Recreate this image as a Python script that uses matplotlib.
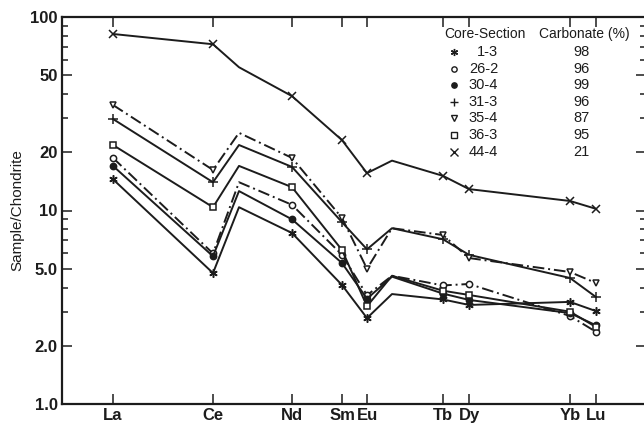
import numpy as np
import matplotlib
matplotlib.use("Agg")
import matplotlib.pyplot as plt
from matplotlib.ticker import FixedLocator, NullFormatter, FixedFormatter

plt.rcParams['font.family'] = ['Liberation Sans', 'DejaVu Sans']

# ----------------------
# DATA
# ----------------------
# x scale of the REE plot (labelled elements + unlabelled Pr / Gd bends)
ELEMENTS  = ["La", "Ce", "Pr", "Nd", "Sm", "Eu", "Gd", "Tb", "Dy", "Yb", "Lu"]
ELEMENT_X = [113, 213, 239, 292, 342, 367, 392, 443, 469, 570, 596]
LABELLED  = ["La", "Ce", "Nd", "Sm", "Eu", "Tb", "Dy", "Yb", "Lu"]

# sample / chondrite (Pr, Gd are line bends with no marker)
s_1_3  = [14.5, 4.75, 10.4, 7.65, 4.12, 2.78, 3.70, 3.47, 3.25, 3.37, 3.02]
s_26_2 = [18.7, 6.0, 14.0, 10.7, 5.9, 3.65, 4.6, 4.1, 4.17, 2.85, 2.36]
s_30_4 = [17.0, 5.8, 12.6, 9.0, 5.35, 3.5, 4.55, 3.72, 3.45, 2.95, 2.55]
s_31_3 = [29.7, 14.0, 21.8, 16.8, 8.7, 6.3, 8.1, 7.1, 5.9, 4.48, 3.57]
s_35_4 = [35.1, 16.2, 25.2, 18.7, 9.15, 5.0, 8.1, 7.47, 5.68, 4.81, 4.22]
s_36_3 = [21.8, 10.4, 17.0, 13.2, 6.25, 3.2, 4.6, 3.85, 3.66, 3.0, 2.5]
s_44_4 = [81.7, 72.3, 55.0, 39.0, 23.1, 15.6, 18.1, 15.1, 12.9, 11.2, 10.2]

CORE_SECTIONS = ["1-3", "26-2", "30-4", "31-3", "35-4", "36-3", "44-4"]
CARBONATE     = [98, 96, 99, 96, 87, 95, 21]
SERIES = [s_1_3, s_26_2, s_30_4, s_31_3, s_35_4, s_36_3, s_44_4]

# ----------------------
# STYLES
# ----------------------
INK = "#1c1c1c"
ASTER = (6, 2, 0)
DASHDOT = (0, (6, 2, 1, 2))
styles = [
    dict(marker=ASTER, ls="-",     mfc=INK,     ms=6),
    dict(marker="o",   ls=DASHDOT, mfc="white", ms=4.5),
    dict(marker="o",   ls="-",     mfc=INK,     ms=4.5),
    dict(marker="+",   ls="-",     mfc=INK,     ms=7),
    dict(marker="v",   ls=DASHDOT, mfc="white", ms=5),
    dict(marker="s",   ls="-",     mfc="white", ms=4.5),
    dict(marker="x",   ls="-",     mfc=INK,     ms=6),
]

# ----------------------
# PLOT
# ----------------------
fig = plt.figure(figsize=(6.44, 4.24), dpi=100)
ax = fig.add_axes([62/644, 1 - 404/424, 584/644, 387/424])

marked = [i for i, e in enumerate(ELEMENTS) if e in LABELLED]
for vals, st in zip(SERIES, styles):
    ax.plot(ELEMENT_X, vals, color=INK, lw=1.4, ls=st["ls"])
    ax.plot([ELEMENT_X[i] for i in marked], [vals[i] for i in marked],
            ls="none", marker=st["marker"], ms=st["ms"], mfc=st["mfc"],
            mec=INK, mew=1.1, color=INK)

ax.set_yscale("log")
ax.set_ylim(1, 100)
ax.set_xlim(62, 646)

ax.yaxis.set_major_locator(FixedLocator([1, 2, 5, 10, 20, 50, 100]))
ax.yaxis.set_major_formatter(FixedFormatter(["1.0", "2.0", "5.0", "10", "20", "50", "100"]))
minors = [m * d for d in (1, 10) for m in (3, 4, 6, 7, 8, 9)]
ax.yaxis.set_minor_locator(FixedLocator(minors))
ax.yaxis.set_minor_formatter(NullFormatter())

ax.set_xticks([ELEMENT_X[i] for i in marked])
ax.set_xticklabels(LABELLED)

ax.tick_params(axis="both", which="both", direction="in", color=INK,
               top=True, right=True, width=1.1)
ax.tick_params(axis="both", which="major", length=7, labelsize=12, pad=3)
ax.tick_params(axis="y", which="minor", length=4)
for lab in ax.get_xticklabels() + ax.get_yticklabels():
    lab.set_fontweight("bold")
    lab.set_color(INK)

for sp in ax.spines.values():
    sp.set_linewidth(1.6)
    sp.set_color(INK)

ax.set_ylabel("Sample/Chondrite", fontsize=11, color=INK, labelpad=4)

# legend as a small table
def fx(px):
    return (px - 62) / 584

def fy(py):
    return (404 - py) / 387

ax.text(fx(485), fy(34), "Core-Section", transform=ax.transAxes, ha="center",
        va="center", fontsize=10, color=INK)
ax.text(fx(584), fy(34), "Carbonate (%)", transform=ax.transAxes, ha="center",
        va="center", fontsize=10, color=INK)
for k, (name, carb) in enumerate(zip(CORE_SECTIONS, CARBONATE)):
    yy = fy(52 + k * 16.6)
    st = styles[k]
    ax.plot([fx(454)], [yy], transform=ax.transAxes, marker=st["marker"],
            ms=st["ms"] * 0.85, mfc=st["mfc"], mec=INK, mew=1.0, ls="none",
            clip_on=False)
    ax.text(fx(498), yy, name, transform=ax.transAxes, ha="right", va="center",
            fontsize=10.5, color=INK)
    ax.text(fx(581), yy, str(carb), transform=ax.transAxes, ha="center",
            va="center", fontsize=10.5, color=INK)

fig.savefig("out.png", dpi=100)
